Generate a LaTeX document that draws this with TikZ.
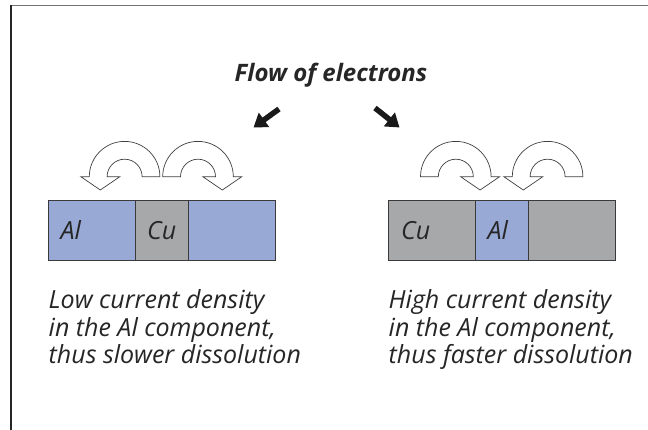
\documentclass[tikz,border=0pt]{standalone}
\usepackage{fontspec}
\setmainfont{Open Sans}
\usetikzlibrary{arrows.meta}
\definecolor{alblue}{HTML}{97A9D4}
\definecolor{cugray}{HTML}{A7A8AA}
\definecolor{edge}{HTML}{3A3A3A}
\tikzset{
  cell/.style={draw=edge, line width=1pt},
  lbl/.style={anchor=base west, inner sep=0pt, font=\fontsize{25}{30}\selectfont\itshape, text=black!85},
  txt/.style={anchor=base west, inner sep=0pt, font=\fontsize{25}{30}\selectfont\itshape, text=black!85},
  ttl/.style={anchor=base, inner sep=0pt, font=\fontsize{24}{28}\selectfont\bfseries\itshape, text=black!85},
  curv/.style={draw=black!75, fill=white, line width=0.7pt, line join=miter},
  blk/.style={draw=black!90, line width=5.5pt, -{Triangle[length=13pt,width=17pt]}}
}
% #1 = centre x ; head on the right
\newcommand\bendright[1]{%
  \draw[curv] ({#1-17.5},253.3) -- ({#1-35.3},253.3)
    arc[start angle=180,end angle=0,radius=35.3]
    -- ({#1+43.8},253.3) -- ({#1+24.3},240) -- ({#1+4.8},253.3)
    -- ({#1+17.5},253.3) arc[start angle=0,end angle=180,radius=17.5] -- cycle;}
% head on the left
\newcommand\bendleft[1]{%
  \draw[curv] ({#1+17.5},253.3) -- ({#1+35.3},253.3)
    arc[start angle=0,end angle=180,radius=35.3]
    -- ({#1-43.8},253.3) -- ({#1-24.3},240) -- ({#1-4.8},253.3)
    -- ({#1-17.5},253.3) arc[start angle=180,end angle=0,radius=17.5] -- cycle;}
\begin{document}
\begin{tikzpicture}[x=1pt,y=1pt]
\useasboundingbox (0,0) rectangle (648,430);
\fill[white] (0,0) rectangle (648,430);
% frame
\draw[black!55, line width=1.6pt] (10,424.3) -- (648,424.3);
\draw[black!85, line width=1.6pt] (10.7,425) -- (10.7,0);
% title
\node[ttl] (title) at (331,348.3) {Flow of electrons};
% black arrows
\coordinate (la1) at (279,321);
\coordinate (la2) at (253.5,302.5);
\coordinate (ra1) at (375,322);
\coordinate (ra2) at (399.5,302.5);
\draw[blk] (la1) -- (la2);
\draw[blk] (ra1) -- (ra2);
% curved arrows
\bendleft{124.6}
\bendright{198}
\bendright{455.8}
\bendleft{547.6}
% left bar
\fill[alblue] (48,169) rectangle (135,229);
\fill[cugray] (135,169) rectangle (188,229);
\fill[alblue] (188,169) rectangle (275,229);
\draw[cell] (48,169) rectangle (275,229);
\draw[cell] (135,169) -- (135,229) (188,169) -- (188,229);
% right bar
\fill[cugray] (388,169) rectangle (475,229);
\fill[alblue] (475,169) rectangle (528,229);
\fill[cugray] (528,169) rectangle (615,229);
\draw[cell] (388,169) rectangle (615,229);
\draw[cell] (475,169) -- (475,229) (528,169) -- (528,229);
% labels
\node[lbl] (al1) at (60.5,190.7) {Al};
\node[lbl] (cu1) at (147,190.7) {Cu};
\node[lbl] (cu2) at (401,190.7) {Cu};
\node[lbl] (al2) at (487.5,190.7) {Al};
% texts
\node[txt] (l1) at (48.5,121) {Low current density};
\node[txt] (l2) at (48.5,93.3) {in the Al component,};
\node[txt] (l3) at (48.5,66) {thus slower dissolution};
\node[txt] (r1) at (388.5,121) {High current density};
\node[txt] (r2) at (388.5,93.3) {in the Al component,};
\node[txt] (r3) at (388.5,66) {thus faster dissolution};
\end{tikzpicture}
\end{document}
